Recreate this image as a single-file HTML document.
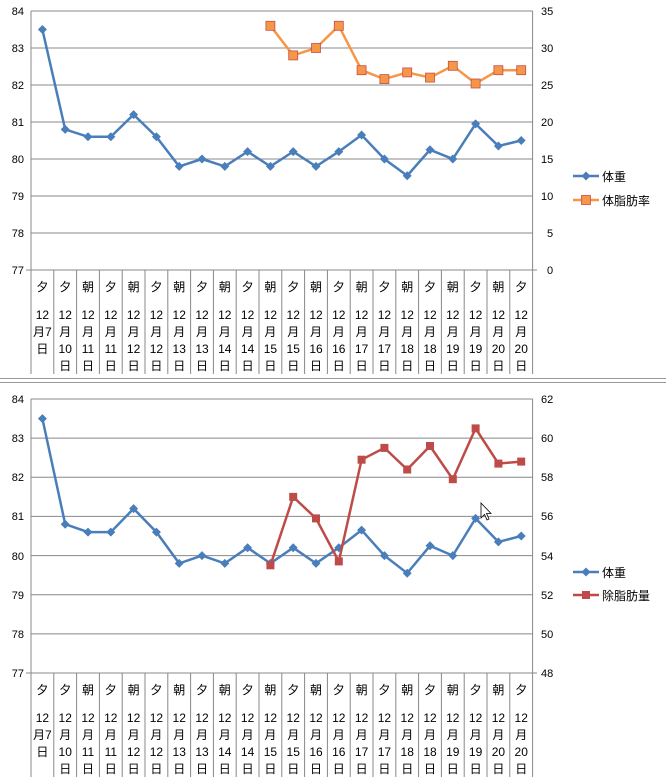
<!DOCTYPE html>
<html><head><meta charset="utf-8"><style>
body{margin:0;background:#fff;width:666px;height:781px;overflow:hidden}
svg{display:block;font-family:"Liberation Sans","Noto Sans CJK JP",sans-serif}
</style></head><body>
<svg width="666" height="781" viewBox="0 0 666 781">
<defs>
<g id="cats">
<g stroke="#888" stroke-width="1">
<line x1="31" y1="0" x2="31" y2="104"/><line x1="53.8" y1="0" x2="53.8" y2="104"/><line x1="76.6" y1="0" x2="76.6" y2="104"/><line x1="99.4" y1="0" x2="99.4" y2="104"/><line x1="122.2" y1="0" x2="122.2" y2="104"/><line x1="145" y1="0" x2="145" y2="104"/><line x1="167.8" y1="0" x2="167.8" y2="104"/><line x1="190.6" y1="0" x2="190.6" y2="104"/><line x1="213.4" y1="0" x2="213.4" y2="104"/><line x1="236.2" y1="0" x2="236.2" y2="104"/><line x1="259" y1="0" x2="259" y2="104"/><line x1="281.8" y1="0" x2="281.8" y2="104"/><line x1="304.6" y1="0" x2="304.6" y2="104"/><line x1="327.4" y1="0" x2="327.4" y2="104"/><line x1="350.2" y1="0" x2="350.2" y2="104"/><line x1="373" y1="0" x2="373" y2="104"/><line x1="395.8" y1="0" x2="395.8" y2="104"/><line x1="418.6" y1="0" x2="418.6" y2="104"/><line x1="441.4" y1="0" x2="441.4" y2="104"/><line x1="464.2" y1="0" x2="464.2" y2="104"/><line x1="487" y1="0" x2="487" y2="104"/><line x1="509.8" y1="0" x2="509.8" y2="104"/><line x1="532.6" y1="0" x2="532.6" y2="104"/>
</g>
<g font-size="12" fill="#000" text-anchor="middle">
<text x="42.4" y="21">夕</text><text x="65.2" y="21">夕</text><text x="88" y="21">朝</text><text x="110.8" y="21">夕</text><text x="133.6" y="21">朝</text><text x="156.4" y="21">夕</text><text x="179.2" y="21">朝</text><text x="202" y="21">夕</text><text x="224.8" y="21">朝</text><text x="247.6" y="21">夕</text><text x="270.4" y="21">朝</text><text x="293.2" y="21">夕</text><text x="316" y="21">朝</text><text x="338.8" y="21">夕</text><text x="361.6" y="21">朝</text><text x="384.4" y="21">夕</text><text x="407.2" y="21">朝</text><text x="430" y="21">夕</text><text x="452.8" y="21">朝</text><text x="475.6" y="21">夕</text><text x="498.4" y="21">朝</text><text x="521.2" y="21">夕</text>
<text x="42.4" y="49">12</text><text x="42.4" y="66">月7</text><text x="42.4" y="83">日</text>
<g>
<text x="65.2" y="49">12</text><text x="65.2" y="66">月</text><text x="65.2" y="83">10</text><text x="65.2" y="100">日</text>
<text x="88" y="49">12</text><text x="88" y="66">月</text><text x="88" y="83">11</text><text x="88" y="100">日</text>
<text x="110.8" y="49">12</text><text x="110.8" y="66">月</text><text x="110.8" y="83">11</text><text x="110.8" y="100">日</text>
<text x="133.6" y="49">12</text><text x="133.6" y="66">月</text><text x="133.6" y="83">12</text><text x="133.6" y="100">日</text>
<text x="156.4" y="49">12</text><text x="156.4" y="66">月</text><text x="156.4" y="83">12</text><text x="156.4" y="100">日</text>
<text x="179.2" y="49">12</text><text x="179.2" y="66">月</text><text x="179.2" y="83">13</text><text x="179.2" y="100">日</text>
<text x="202" y="49">12</text><text x="202" y="66">月</text><text x="202" y="83">13</text><text x="202" y="100">日</text>
<text x="224.8" y="49">12</text><text x="224.8" y="66">月</text><text x="224.8" y="83">14</text><text x="224.8" y="100">日</text>
<text x="247.6" y="49">12</text><text x="247.6" y="66">月</text><text x="247.6" y="83">14</text><text x="247.6" y="100">日</text>
<text x="270.4" y="49">12</text><text x="270.4" y="66">月</text><text x="270.4" y="83">15</text><text x="270.4" y="100">日</text>
<text x="293.2" y="49">12</text><text x="293.2" y="66">月</text><text x="293.2" y="83">15</text><text x="293.2" y="100">日</text>
<text x="316" y="49">12</text><text x="316" y="66">月</text><text x="316" y="83">16</text><text x="316" y="100">日</text>
<text x="338.8" y="49">12</text><text x="338.8" y="66">月</text><text x="338.8" y="83">16</text><text x="338.8" y="100">日</text>
<text x="361.6" y="49">12</text><text x="361.6" y="66">月</text><text x="361.6" y="83">17</text><text x="361.6" y="100">日</text>
<text x="384.4" y="49">12</text><text x="384.4" y="66">月</text><text x="384.4" y="83">17</text><text x="384.4" y="100">日</text>
<text x="407.2" y="49">12</text><text x="407.2" y="66">月</text><text x="407.2" y="83">18</text><text x="407.2" y="100">日</text>
<text x="430" y="49">12</text><text x="430" y="66">月</text><text x="430" y="83">18</text><text x="430" y="100">日</text>
<text x="452.8" y="49">12</text><text x="452.8" y="66">月</text><text x="452.8" y="83">19</text><text x="452.8" y="100">日</text>
<text x="475.6" y="49">12</text><text x="475.6" y="66">月</text><text x="475.6" y="83">19</text><text x="475.6" y="100">日</text>
<text x="498.4" y="49">12</text><text x="498.4" y="66">月</text><text x="498.4" y="83">20</text><text x="498.4" y="100">日</text>
<text x="521.2" y="49">12</text><text x="521.2" y="66">月</text><text x="521.2" y="83">20</text><text x="521.2" y="100">日</text>
</g></g>
</g>
<path id="dm" d="M0,-4.5 L4.5,0 L0,4.5 L-4.5,0Z" fill="#4a7ebb"/>
</defs>

<!-- Chart 1 -->
<g stroke="#888" stroke-width="1">
<line x1="31" y1="11" x2="532.6" y2="11"/><line x1="31" y1="48" x2="532.6" y2="48"/><line x1="31" y1="85" x2="532.6" y2="85"/><line x1="31" y1="122" x2="532.6" y2="122"/><line x1="31" y1="159" x2="532.6" y2="159"/><line x1="31" y1="196" x2="532.6" y2="196"/><line x1="31" y1="233" x2="532.6" y2="233"/><line x1="26" y1="270" x2="537" y2="270"/>
<line x1="31" y1="11" x2="31" y2="270"/><line x1="532.6" y1="11" x2="532.6" y2="270"/>
</g>
<g font-size="11" fill="#000" text-anchor="end">
<text x="24" y="15">84</text><text x="24" y="52">83</text><text x="24" y="89">82</text><text x="24" y="126">81</text><text x="24" y="163">80</text><text x="24" y="200">79</text><text x="24" y="237">78</text><text x="24" y="274">77</text>
</g>
<g font-size="11" fill="#000">
<text x="541" y="15">35</text><text x="541" y="52">30</text><text x="541" y="89">25</text><text x="541" y="126">20</text><text x="541" y="163">15</text><text x="541" y="200">10</text><text x="547" y="237">5</text><text x="547" y="274">0</text>
</g>
<use href="#cats" x="0" y="270"/>
<polyline fill="none" stroke="#f79646" stroke-width="2.5" points="270.4,25.8 293.2,55.4 316,48 338.8,25.8 361.6,70.2 384.4,79.1 407.2,72.4 430,77.6 452.8,65.8 475.6,83.5 498.4,70.2 521.2,70.2"/>
<g fill="#f79646" stroke="#c0504d" stroke-width="0.8">
<rect x="265.9" y="21.3" width="9" height="9"/><rect x="288.7" y="50.9" width="9" height="9"/><rect x="311.5" y="43.5" width="9" height="9"/><rect x="334.3" y="21.3" width="9" height="9"/><rect x="357.1" y="65.7" width="9" height="9"/><rect x="379.9" y="74.6" width="9" height="9"/><rect x="402.7" y="67.9" width="9" height="9"/><rect x="425.5" y="73.1" width="9" height="9"/><rect x="448.3" y="61.3" width="9" height="9"/><rect x="471.1" y="79" width="9" height="9"/><rect x="493.9" y="65.7" width="9" height="9"/><rect x="516.7" y="65.7" width="9" height="9"/>
</g>
<polyline fill="none" stroke="#4a7ebb" stroke-width="2.5" points="42.4,29.5 65.2,129.4 88,136.8 110.8,136.8 133.6,114.6 156.4,136.8 179.2,166.4 202,159 224.8,166.4 247.6,151.6 270.4,166.4 293.2,151.6 316,166.4 338.8,151.6 361.6,135 384.4,159 407.2,175.7 430,149.8 452.8,159 475.6,123.9 498.4,146 521.2,140.5"/>
<g>
<use href="#dm" x="42.4" y="29.5"/><use href="#dm" x="65.2" y="129.4"/><use href="#dm" x="88" y="136.8"/><use href="#dm" x="110.8" y="136.8"/><use href="#dm" x="133.6" y="114.6"/><use href="#dm" x="156.4" y="136.8"/><use href="#dm" x="179.2" y="166.4"/><use href="#dm" x="202" y="159"/><use href="#dm" x="224.8" y="166.4"/><use href="#dm" x="247.6" y="151.6"/><use href="#dm" x="270.4" y="166.4"/><use href="#dm" x="293.2" y="151.6"/><use href="#dm" x="316" y="166.4"/><use href="#dm" x="338.8" y="151.6"/><use href="#dm" x="361.6" y="135"/><use href="#dm" x="384.4" y="159"/><use href="#dm" x="407.2" y="175.7"/><use href="#dm" x="430" y="149.8"/><use href="#dm" x="452.8" y="159"/><use href="#dm" x="475.6" y="123.9"/><use href="#dm" x="498.4" y="146"/><use href="#dm" x="521.2" y="140.5"/>
</g>
<line x1="573" y1="176" x2="599" y2="176" stroke="#4a7ebb" stroke-width="2.5"/><use href="#dm" x="586" y="176"/>
<text x="602" y="181" font-size="12">体重</text>
<line x1="573" y1="200" x2="599" y2="200" stroke="#f79646" stroke-width="2.5"/><rect x="581.5" y="195.5" width="9" height="9" fill="#f79646" stroke="#c0504d" stroke-width="0.8"/>
<text x="602" y="205" font-size="12">体脂肪率</text>

<!-- separator -->
<line x1="0" y1="378.5" x2="666" y2="378.5" stroke="#999"/>
<line x1="0" y1="382.5" x2="666" y2="382.5" stroke="#999"/>

<!-- Chart 2 -->
<g stroke="#888" stroke-width="1">
<line x1="31" y1="399" x2="532.6" y2="399"/><line x1="31" y1="438.1" x2="532.6" y2="438.1"/><line x1="31" y1="477.3" x2="532.6" y2="477.3"/><line x1="31" y1="516.4" x2="532.6" y2="516.4"/><line x1="31" y1="555.6" x2="532.6" y2="555.6"/><line x1="31" y1="594.7" x2="532.6" y2="594.7"/><line x1="31" y1="633.9" x2="532.6" y2="633.9"/><line x1="26" y1="673" x2="537" y2="673"/>
<line x1="31" y1="399" x2="31" y2="673"/><line x1="532.6" y1="399" x2="532.6" y2="673"/>
</g>
<g font-size="11" fill="#000" text-anchor="end">
<text x="24" y="403">84</text><text x="24" y="442">83</text><text x="24" y="481">82</text><text x="24" y="520">81</text><text x="24" y="560">80</text><text x="24" y="599">79</text><text x="24" y="638">78</text><text x="24" y="677">77</text>
</g>
<g font-size="11" fill="#000">
<text x="541" y="403">62</text><text x="541" y="442">60</text><text x="541" y="481">58</text><text x="541" y="520">56</text><text x="541" y="560">54</text><text x="541" y="599">52</text><text x="541" y="638">50</text><text x="541" y="677">48</text>
</g>
<use href="#cats" x="0" y="673"/>
<polyline fill="none" stroke="#4a7ebb" stroke-width="2.5" points="42.4,418.6 65.2,524.2 88,532.1 110.8,532.1 133.6,508.6 156.4,532.1 179.2,563.4 202,555.6 224.8,563.4 247.6,547.7 270.4,563.4 293.2,547.7 316,563.4 338.8,547.7 361.6,530.1 384.4,555.6 407.2,573.2 430,545.8 452.8,555.6 475.6,518.4 498.4,541.9 521.2,536"/>
<g>
<use href="#dm" x="42.4" y="418.6"/><use href="#dm" x="65.2" y="524.2"/><use href="#dm" x="88" y="532.1"/><use href="#dm" x="110.8" y="532.1"/><use href="#dm" x="133.6" y="508.6"/><use href="#dm" x="156.4" y="532.1"/><use href="#dm" x="179.2" y="563.4"/><use href="#dm" x="202" y="555.6"/><use href="#dm" x="224.8" y="563.4"/><use href="#dm" x="247.6" y="547.7"/><use href="#dm" x="270.4" y="563.4"/><use href="#dm" x="293.2" y="547.7"/><use href="#dm" x="316" y="563.4"/><use href="#dm" x="338.8" y="547.7"/><use href="#dm" x="361.6" y="530.1"/><use href="#dm" x="384.4" y="555.6"/><use href="#dm" x="407.2" y="573.2"/><use href="#dm" x="430" y="545.8"/><use href="#dm" x="452.8" y="555.6"/><use href="#dm" x="475.6" y="518.4"/><use href="#dm" x="498.4" y="541.9"/><use href="#dm" x="521.2" y="536"/>
</g>
<polyline fill="none" stroke="#be4b48" stroke-width="2.5" points="270.4,565.3 293.2,496.9 316,518.4 338.8,561.4 361.6,459.7 384.4,447.9 407.2,469.5 430,446 452.8,479.2 475.6,428.4 498.4,463.6 521.2,461.6"/>
<g fill="#be4b48">
<rect x="266.4" y="561.3" width="8" height="8"/><rect x="289.2" y="492.9" width="8" height="8"/><rect x="312" y="514.4" width="8" height="8"/><rect x="334.8" y="557.4" width="8" height="8"/><rect x="357.6" y="455.7" width="8" height="8"/><rect x="380.4" y="443.9" width="8" height="8"/><rect x="403.2" y="465.5" width="8" height="8"/><rect x="426" y="442" width="8" height="8"/><rect x="448.8" y="475.2" width="8" height="8"/><rect x="471.6" y="424.4" width="8" height="8"/><rect x="494.4" y="459.6" width="8" height="8"/><rect x="517.2" y="457.6" width="8" height="8"/>
</g>
<line x1="573" y1="572" x2="599" y2="572" stroke="#4a7ebb" stroke-width="2.5"/><use href="#dm" x="586" y="572"/>
<text x="602" y="577" font-size="12">体重</text>
<line x1="573" y1="595" x2="599" y2="595" stroke="#be4b48" stroke-width="2.5"/><rect x="582" y="591" width="8" height="8" fill="#be4b48"/>
<text x="602" y="600" font-size="12">除脂肪量</text>
<!-- cursor -->
<path d="M481,503 L481,518 L484.5,514.5 L487,520 L489,519 L486.5,513.5 L491,513.5Z" fill="#fff" stroke="#000" stroke-width="0.8"/>
</svg>
</body></html>
